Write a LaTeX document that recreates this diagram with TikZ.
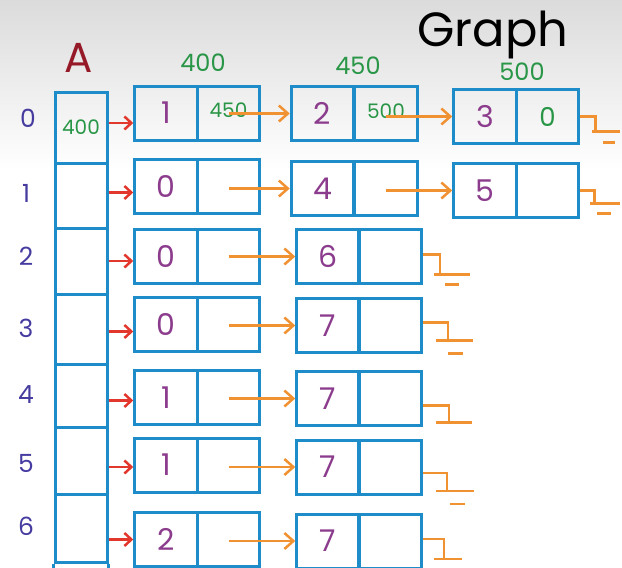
\documentclass[tikz,border=0pt]{standalone}
\usepackage{fontspec}
\newfontfamily\hand{Poppins}
\usetikzlibrary{arrows.meta,calc}
\definecolor{cellblue}{RGB}{30,140,200}
\definecolor{vpurple}{RGB}{140,60,140}
\definecolor{vgreen}{RGB}{40,150,70}
\definecolor{vorange}{RGB}{240,145,50}
\definecolor{vred}{RGB}{225,55,45}
\definecolor{idxblue}{RGB}{70,60,160}
\definecolor{adark}{RGB}{150,25,40}
\begin{document}
\begin{tikzpicture}[x=1pt,y=-1pt,
  cellbox/.style={draw=cellblue, line width=3pt, minimum width=62.5pt, minimum height=54pt,
    inner sep=0pt, font=\hand\fontsize{30}{30}\selectfont, text=vpurple},
  ptrbox/.style={cellbox, text=vgreen, font=\hand\fontsize{20}{20}\selectfont},
  acell/.style={draw=cellblue, line width=3pt, minimum width=52pt, inner sep=0pt,
    text=vgreen, font=\hand\fontsize{20}{20}\selectfont},
  idx/.style={text=idxblue, font=\hand\fontsize{25}{25}\selectfont},
  hdr/.style={text=vgreen, font=\hand\fontsize{24}{24}\selectfont},
  redarr/.style={draw=vred, line width=2.5pt, -{Straight Barb[length=7pt,width=13pt]}},
  orarr/.style={draw=vorange, line width=2.5pt, -{Straight Barb[length=9pt,width=16pt]}},
  gnd/.style={draw=vorange, line width=2.5pt}]
\useasboundingbox (0,0) rectangle (622,568);
\shade[top color=black!14, bottom color=white] (0,0) rectangle (622,170);
% headings
\node[text=black, font=\hand\fontsize{48}{48}\selectfont] (title) at (493,35) {Graph};
\node[text=adark, font=\hand\fontsize{42}{42}\selectfont] (hA) at (79,58) {A};
\node[hdr] (h400) at (203,63) {400};
\node[hdr] (h450) at (358,66) {450};
\node[hdr] (h500) at (522,72) {500};
% index labels
\node[idx] (i0) at (28,118) {0};
\node[idx] (i1) at (26,193) {1};
\node[idx] (i2) at (26,256) {2};
\node[idx] (i3) at (26,328) {3};
\node[idx] (i4) at (26,395) {4};
\node[idx] (i5) at (26,463) {5};
\node[idx] (i6) at (26,526) {6};
% array A
\node[acell, minimum height=71pt] (a0) at (81,127.5) {400};
\node[acell, minimum height=65pt] (a1) at (81,195.5) {};
\node[acell, minimum height=66pt] (a2) at (81,261) {};
\node[acell, minimum height=70pt] (a3) at (81,329) {};
\node[acell, minimum height=63pt] (a4) at (81,395.5) {};
\node[acell, minimum height=67pt] (a5) at (81,460.5) {};
\node[acell, minimum height=68pt] (a6) at (81,528) {};
\draw[draw=cellblue, line width=3pt] (a6.south west) -- ++(0,6);
\draw[draw=cellblue, line width=3pt] (a6.south east) -- ++(0,6);
% row 0
\node[cellbox] (v01) at (166,113) {1};
\node[ptrbox] (p01) at (228.5,113) {\raisebox{5pt}{450}};
\node[cellbox] (v02) at (322.5,113.5) {2};
\node[ptrbox] (p02) at (386,113.5) {\raisebox{5pt}{500}};
\node[cellbox] (v03) at (485,116.5) {3};
\node[ptrbox, font=\hand\fontsize{26}{26}\selectfont] (p03) at (547.5,116.5) {0};
% row 1
\node[cellbox] (v11) at (166,186.5) {0};
\node[cellbox] (p11) at (228.5,186.5) {};
\node[cellbox] (v12) at (322.5,188.5) {4};
\node[cellbox] (p12) at (386,188.5) {};
\node[cellbox] (v13) at (485,190.5) {5};
\node[cellbox] (p13) at (547.5,190.5) {};
% rows 2-6
\node[cellbox] (v21) at (166,256) {0};
\node[cellbox] (p21) at (228.5,256) {};
\node[cellbox] (v22) at (328,256.5) {6};
\node[cellbox] (p22) at (390,256.5) {};
\node[cellbox] (v31) at (166,324.5) {0};
\node[cellbox] (p31) at (228.5,324.5) {};
\node[cellbox] (v32) at (328,325.5) {7};
\node[cellbox] (p32) at (390,325.5) {};
\node[cellbox] (v41) at (166,397.5) {1};
\node[cellbox] (p41) at (228.5,397.5) {};
\node[cellbox] (v42) at (328,398.5) {7};
\node[cellbox] (p42) at (390,398.5) {};
\node[cellbox] (v51) at (166,465) {1};
\node[cellbox] (p51) at (228.5,465) {};
\node[cellbox] (v52) at (328,467) {7};
\node[cellbox] (p52) at (390,467) {};
\node[cellbox] (v61) at (166,539.5) {2};
\node[cellbox] (p61) at (228.5,539.5) {};
\node[cellbox] (v62) at (328,541) {7};
\node[cellbox] (p62) at (390,541) {};
% red arrows A -> first node
\coordinate (r0) at ($(v01.west)+(0,10)$);
\coordinate (r1) at ($(v11.west)+(0,6)$);
\coordinate (r2) at ($(v21.west)+(0,5)$);
\coordinate (r3) at ($(v31.west)+(0,7)$);
\coordinate (r4) at ($(v41.west)+(0,3)$);
\coordinate (r5) at ($(v51.west)+(0,2)$);
\coordinate (r6) at ($(v61.west)+(0,0)$);
\foreach \k in {0,...,6} {
  \draw[redarr] (a\k.east |- r\k) -- (r\k);
}
% orange arrows
\draw[orarr] (p01.center |- v02.west) -- (v02.west);
\draw[orarr] (p02.center |- v03.west) -- (v03.west);
\draw[orarr] (p11.center |- v12.west) -- (v12.west);
\draw[orarr] (p12.center |- v13.west) -- (v13.west);
\foreach \k in {2,...,6} {
  \draw[orarr] (p\k1.center |- v\k2.west) -- (v\k2.west);
}
% null (ground) markers
\draw[gnd] (p03.east) -- ++(15,0) -- ++(0,15) ++(-3,0) -- ++(28,0) ++(-17,11) -- ++(12,0);
\draw[gnd] (p13.east) -- ++(14,0) -- ++(0,13) ++(-4,0) -- ++(30,0) ++(-23,10) -- ++(14,0);
\draw[gnd] ($(p22.east)+(0,-2)$) -- ++(17,0) -- ++(0,20) ++(-6,0) -- ++(36,0) ++(-25,10) -- ++(14,0);
\draw[gnd] ($(p32.east)+(0,-3)$) -- ++(25,0) -- ++(0,18) ++(-12,0) -- ++(37,0) ++(-25,13) -- ++(15,0);
\draw[gnd] ($(p42.east)+(0,7)$) -- ++(26,0) -- ++(0,17) ++(-13,0) -- ++(36,0);
\draw[gnd] ($(p52.east)+(0,6)$) -- ++(24,0) -- ++(0,18) ++(-11,0) -- ++(38,0) ++(-24,13) -- ++(15,0);
\draw[gnd] ($(p62.east)+(0,-2)$) -- ++(21,0) -- ++(0,20) ++(-10,0) -- ++(28,0);
\end{tikzpicture}
\end{document}
